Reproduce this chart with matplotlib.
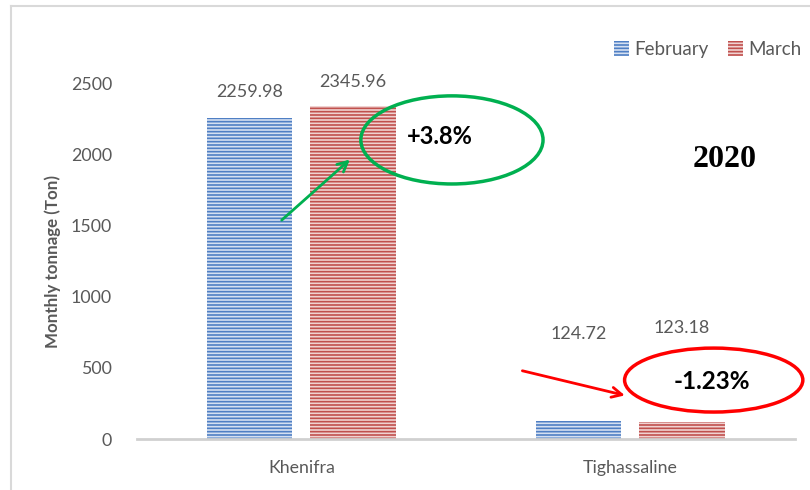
import matplotlib.pyplot as plt
from matplotlib.patches import Ellipse
from matplotlib.lines import Line2D
import numpy as np

sites = ['Khenifra', 'Tighassaline']
february = [2259.98, 124.72]
march = [2345.96, 123.18]
months = ['February', 'March']
yticks = [0, 500, 1000, 1500, 2000, 2500]

plt.rcParams['font.family'] = ['Lato', 'DejaVu Sans']
plt.rcParams['hatch.linewidth'] = 1.2
gray = '#595959'

fig = plt.figure(figsize=(8.1, 4.9), dpi=100)
ax = fig.add_axes([0.169, 0.104, 0.812, 0.725])

x = np.arange(len(sites))
w = 0.26
b1 = ax.bar(x - 0.157, february, w, color='#d5e0f1', edgecolor='#4f7fc4',
            hatch='-----', linewidth=0, label=months[0])
b2 = ax.bar(x + 0.157, march, w, color='#f0d2d1', edgecolor='#c0504d',
            hatch='-----', linewidth=0, label=months[1])

# data labels (placed by hand like the original)
offsets1 = [19, 63]
offsets2 = [17, 67]
for i in range(len(sites)):
    ax.annotate(f'{february[i]:.2f}', (x[i] - 0.157, february[i]),
                xytext=(0, offsets1[i]), textcoords='offset points',
                ha='center', va='center', fontsize=13, color=gray)
    ax.annotate(f'{march[i]:.2f}', (x[i] + 0.157, march[i]),
                xytext=(0, offsets2[i]), textcoords='offset points',
                ha='center', va='center', fontsize=13, color=gray)

ax.set_xlim(-0.5, 1.5)
ax.set_ylim(0, 2500)
ax.set_yticks(yticks)
ax.set_xticks(x)
ax.set_xticklabels(sites)
ax.tick_params(length=0, labelsize=12.8, labelcolor=gray)
ax.tick_params(axis='y', pad=18)
ax.tick_params(axis='x', pad=15)
for s in ['top', 'right', 'left']:
    ax.spines[s].set_visible(False)
ax.spines['bottom'].set_color('#d0d0d0')
ax.spines['bottom'].set_linewidth(2)
ax.set_ylabel('Monthly tonnage (Ton)', fontsize=12.2, fontweight='bold',
              color=gray, labelpad=7)

ax.legend(loc='upper right', bbox_to_anchor=(1.036, 1.168), ncol=2, frameon=False,
          fontsize=13.5, handlelength=0.8, handleheight=0.8, handletextpad=0.3,
          columnspacing=1.0, labelcolor=gray)

# change annotations
ax.add_patch(Ellipse((0.479, 0.842), 0.277, 0.248, transform=ax.transAxes,
                     fill=False, edgecolor='#00b050', linewidth=2.5, clip_on=False))
ax.text(0.46, 0.851, '+3.8%', transform=ax.transAxes, ha='center', va='center',
        fontsize=17, fontweight='bold')
ax.annotate('', xy=(0.327, 0.792), xytext=(0.217, 0.611), xycoords='axes fraction',
            arrowprops=dict(arrowstyle='->', color='#00b050', lw=2,
                            mutation_scale=18))

ax.add_patch(Ellipse((0.877, 0.166), 0.271, 0.18, transform=ax.transAxes,
                     fill=False, edgecolor='#ff0000', linewidth=2.5, clip_on=False))
ax.text(0.874, 0.161, '-1.23%', transform=ax.transAxes, ha='center', va='center',
        fontsize=17.5, fontweight='bold')
ax.annotate('', xy=(0.746, 0.121), xytext=(0.582, 0.194), xycoords='axes fraction',
            arrowprops=dict(arrowstyle='->', color='#ff0000', lw=2,
                            mutation_scale=18))

ax.text(0.894, 0.786, '2020', transform=ax.transAxes, ha='center', va='center',
        fontsize=23, fontweight='bold', family='Liberation Serif')

# chart frame (left and top edges visible)
fig.add_artist(Line2D([0.013, 0.013], [0, 0.988], color='#d9d9d9', lw=1.5))
fig.add_artist(Line2D([0.013, 1.0], [0.988, 0.988], color='#d9d9d9', lw=1.5))

fig.savefig('out.png', dpi=100)
